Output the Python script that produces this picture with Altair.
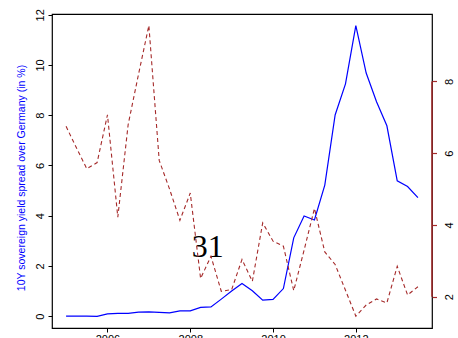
import altair as alt
import pandas as pd

# quarterly time points (2005Q1 .. 2013Q3)
quarters = [2005.0, 2005.25, 2005.5, 2005.75, 2006.0, 2006.25, 2006.5, 2006.75,
            2007.0, 2007.25, 2007.5, 2007.75, 2008.0, 2008.25, 2008.5, 2008.75,
            2009.0, 2009.25, 2009.5, 2009.75, 2010.0, 2010.25, 2010.5, 2010.75,
            2011.0, 2011.25, 2011.5, 2011.75, 2012.0, 2012.25, 2012.5, 2012.75,
            2013.0, 2013.25, 2013.5]

# 10Y spread over Germany (left axis, blue)
spread = [0.00, 0.00, 0.00, -0.01, 0.09, 0.11, 0.11, 0.16, 0.17, 0.15, 0.13, 0.21,
          0.21, 0.35, 0.37, 0.68, 1.00, 1.30, 1.01, 0.64, 0.67, 1.10, 3.12, 3.99,
          3.83, 5.22, 8.01, 9.25, 11.57, 9.68, 8.54, 7.58, 5.39, 5.16, 4.72]

# second series (right axis, dashed brown)
second = [6.75, 6.15, 5.57, 5.74, 7.07, 4.22, 6.80, 8.20, 9.56, 5.80, 5.00, 4.13,
          4.89, 2.51, 3.13, 2.15, 2.20, 3.04, 2.43, 4.06, 3.55, 3.41, 2.17, 3.30,
          4.46, 3.25, 2.90, 2.18, 1.46, 1.77, 1.94, 1.83, 2.85, 2.05, 2.28]

x_ticks = [2006, 2008, 2010, 2012]
left_ticks = [0, 2, 4, 6, 8, 10, 12]
right_ticks = [2, 4, 6, 8]

# stray page-number annotation and right-axis line extent
note_text = ["31"]
note_t = [2008.42]
note_y = [2.35]
raxis_from = [2]
raxis_to = [8]

df = pd.DataFrame({"t": quarters, "spread": spread, "second": second})
note_df = pd.DataFrame({"t": note_t, "spread": note_y, "label": note_text})
rule_df = pd.DataFrame({"second": raxis_from, "second_end": raxis_to})

BROWN = "#A52A2A"
FONT = "Liberation Sans"

xscale = alt.Scale(domain=[2004.66, 2013.84], nice=False, zero=False)
xaxis = alt.Axis(values=x_ticks, format="d", title=None, grid=False, domain=False,
                 tickSize=4, tickColor="black", labelFontSize=11, labelFont=FONT,
                 labelColor="black", labelPadding=1.5)

lscale = alt.Scale(domain=[-0.47, 12.03], nice=False, zero=False)
rscale = alt.Scale(domain=[1.13, 9.88], nice=False, zero=False)

laxis = alt.Axis(orient="left", values=left_ticks, grid=False, domain=False,
                 tickSize=4, tickColor="black", labelAngle=270,
                 labelAlign="center", labelBaseline="bottom",
                 labelPadding=3, labelFontSize=11, labelFont=FONT,
                 labelColor="black",
                 title="10Y sovereign yield spread over Germany (in %)",
                 titleColor="#0000FF", titleFont=FONT, titleFontSize=10.5,
                 titleFontWeight="normal", titleAngle=270,
                 titleAlign="center", titleBaseline="middle",
                 titleX=-31, titleY=163.5)

raxis = alt.Axis(orient="right", values=right_ticks, grid=False, domain=False,
                 tickSize=4.5, tickColor=BROWN, tickWidth=1.2, labelAngle=270,
                 labelAlign="center", labelBaseline="top",
                 labelPadding=7, labelFontSize=11, labelFont=FONT,
                 labelColor="black", title=None)

blue = alt.Chart(df).mark_line(color="#0000FF", strokeWidth=1.2).encode(
    x=alt.X("t:Q", scale=xscale, axis=xaxis),
    y=alt.Y("spread:Q", scale=lscale, axis=laxis),
)

page_num = alt.Chart(note_df).mark_text(
    font="Liberation Serif", fontSize=32, align="center",
    baseline="alphabetic", color="black"
).encode(
    x=alt.X("t:Q", scale=xscale, axis=xaxis),
    y=alt.Y("spread:Q", scale=lscale, axis=laxis),
    text="label:N",
)

red = alt.Chart(df).mark_line(color=BROWN, strokeWidth=1.1, strokeDash=[4, 3]).encode(
    x=alt.X("t:Q", scale=xscale, axis=xaxis),
    y=alt.Y("second:Q", scale=rscale, axis=raxis),
)

raxis_line = alt.Chart(rule_df).mark_rule(color=BROWN, strokeWidth=1.5).encode(
    x=alt.value(380),
    y=alt.Y("second:Q", scale=rscale, axis=raxis),
    y2="second_end:Q",
)

left_group = alt.layer(blue, page_num)
right_group = alt.layer(red, raxis_line)

chart = alt.layer(left_group, right_group).resolve_scale(y="independent").properties(
    width=380, height=314,
    autosize=alt.AutoSizeParams(type="none"),
    padding={"left": 52, "top": 14, "right": 26, "bottom": 10},
    background="white",
).configure_view(stroke="black", strokeWidth=1.2)

chart.save("out.html", embed_options={"renderer": "svg", "actions": False})
